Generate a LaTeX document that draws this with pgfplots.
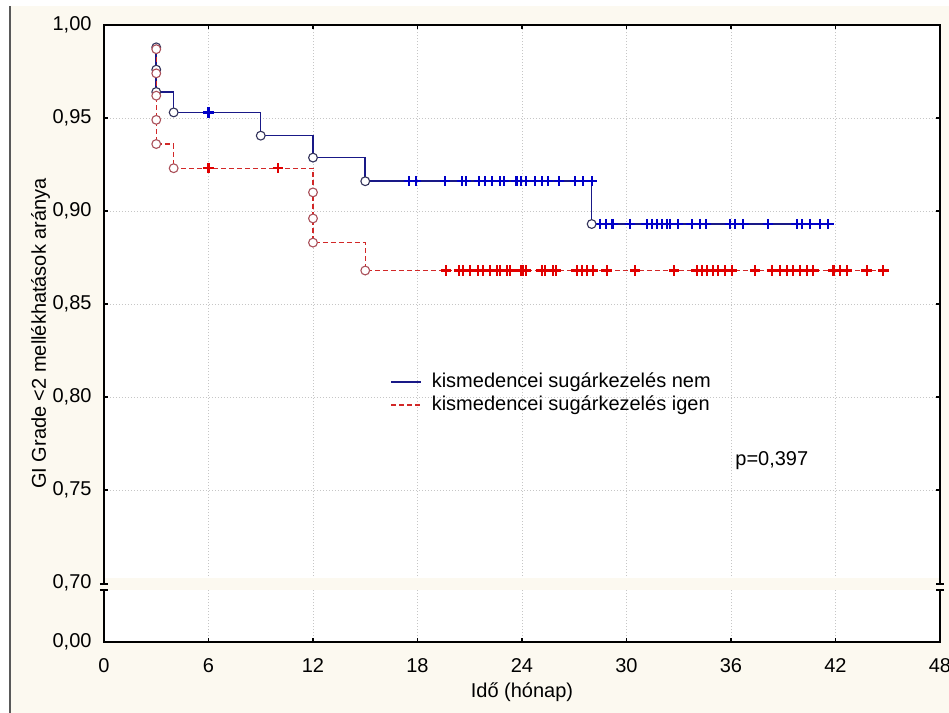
\documentclass[border=0pt]{standalone}
\usepackage{pgfplots}
\pgfplotsset{compat=1.18}
\usepackage{fontspec}
\setmainfont{Liberation Sans}
\definecolor{cream}{RGB}{252,249,240}
\definecolor{kmblue}{RGB}{25,25,135}
\definecolor{kmred}{RGB}{210,40,40}
\definecolor{cenblue}{RGB}{0,0,200}
\definecolor{cenred}{RGB}{225,0,0}
\definecolor{circred}{RGB}{170,80,90}
\definecolor{circblue}{RGB}{50,50,90}
\begin{document}
\begin{tikzpicture}
\useasboundingbox (-52pt,-35.5pt) rectangle (422.5pt,321pt);
\fill[white] (-52pt,-35.5pt) rectangle (422.5pt,321pt);
\fill[cream] (-47pt,-35.5pt) rectangle (422.5pt,318pt);
\draw[gray!70!black, line width=0.7pt] (-47pt,-35.5pt) -- (-47pt,318pt);
\begin{axis}[
  scale only axis, width=418pt, height=308.5pt,
  xmin=0, xmax=48, ymin=0.66828, ymax=1,
  axis background/.style={fill=white},
  axis line style={line width=0.8pt},
  xtick={0,6,12,18,24,30,36,42,48},
  xticklabels={0,6,12,18,24,30,36,42,48},
  ytick={0.66828,0.70,0.75,0.80,0.85,0.90,0.95,1.00},
  yticklabels={{0,00},{0,70},{0,75},{0,80},{0,85},{0,90},{0,95},{1,00}},
  tick align=inside, major tick length=2pt,
  tick style={black, line width=0.6pt},
  xticklabel style={anchor=base, yshift=-15pt},
  yticklabel style={anchor=east, xshift=-2.7pt},
  grid=major,
  major grid style={gray!45, line width=0.4pt, dash pattern=on 0.6pt off 0.9pt},
  xlabel={Idő (hónap)},
  ylabel={GI Grade <2 mellékhatások aránya},
  every axis x label/.style={at={(axis description cs:0.5,0)}, yshift=-27.5pt, anchor=base},
  every axis y label/.style={at={(axis description cs:0,0.5)}, xshift=-29pt, rotate=90, anchor=base},
  legend style={at={(axis description cs:0.342,0.4028)}, anchor=west, draw=none, fill=none,
    inner sep=0pt, cells={anchor=west}, row sep=1pt,
    nodes={inner sep=0.5pt, text height=7.5pt, text depth=2pt},
    /tikz/every odd column/.append style={column sep=4.5pt}},
  legend image code/.code={\draw[#1] (0pt,0pt) -- (15pt,0pt);},
]
% blue (nem) step curve
\addplot[kmblue, line width=0.75pt, const plot mark left, forget plot] coordinates {
(3,0.988) (3,0.976) (3,0.964) (4,0.953) (9,0.9405) (12,0.9287) (15,0.916) (28,0.893) (41.6,0.893)};
% blue censored
\addplot[only marks, mark=+, mark size=2.6pt, cenblue, line width=1.1pt, forget plot] coordinates {
(6,0.953)
(17.51,0.916) (17.91,0.916) (19.58,0.916) (20.54,0.916) (20.79,0.916) (21.55,0.916) (21.88,0.916)
(22.26,0.916) (22.74,0.916) (22.97,0.916) (23.69,0.916) (23.92,0.916) (24.21,0.916) (24.75,0.916)
(25.13,0.916) (25.51,0.916) (26.14,0.916) (27.04,0.916) (27.52,0.916) (28.0,0.916)
(28.48,0.893) (28.82,0.893) (29.2,0.893) (30.2,0.893) (31.16,0.893) (31.45,0.893) (31.73,0.893)
(32.02,0.893) (32.31,0.893) (32.5,0.893) (32.97,0.893) (33.74,0.893) (34.22,0.893) (34.56,0.893)
(35.94,0.893) (36.23,0.893) (36.71,0.893) (38.14,0.893) (39.77,0.893) (40.06,0.893) (40.54,0.893)
(41.11,0.893) (41.59,0.893)};
% blue events
\addplot[only marks, mark=*, mark size=2.2pt, mark options={fill=white, draw=circblue, line width=0.55pt}, forget plot] coordinates {
(3,0.988) (3,0.976) (3,0.964) (4,0.953) (9,0.9405) (12,0.9287) (15,0.916) (28,0.893)};
% red (igen) step curve
\addplot[kmred, line width=0.6pt, dash pattern=on 2.5pt off 1.5pt, const plot mark left, forget plot] coordinates {
(3,0.987) (3,0.974) (3,0.962) (3,0.949) (3,0.936) (4,0.923) (12,0.910) (12,0.896) (12,0.883) (15,0.868) (44.9,0.868)};
% red censored
\addplot[only marks, mark=+, mark size=2.6pt, cenred, line width=1.1pt, forget plot] coordinates {
(6,0.923) (10,0.923)
(19.64,0.868) (20.4,0.868) (20.63,0.868) (21.01,0.868) (21.49,0.868) (21.74,0.868) (22.16,0.868)
(22.55,0.868) (22.74,0.868) (23.12,0.868) (23.31,0.868) (23.92,0.868) (24.08,0.868) (24.23,0.868)
(25.13,0.868) (25.32,0.868) (25.8,0.868) (25.95,0.868) (27.14,0.868) (27.43,0.868) (27.71,0.868)
(28.09,0.868) (28.86,0.868) (30.49,0.868) (32.73,0.868) (34.03,0.868) (34.32,0.868) (34.64,0.868)
(34.98,0.868) (35.27,0.868) (35.66,0.868) (36.04,0.868) (37.38,0.868) (38.34,0.868) (38.81,0.868)
(39.2,0.868) (39.58,0.868) (39.96,0.868) (40.35,0.868) (40.73,0.868) (41.88,0.868) (42.26,0.868)
(42.64,0.868) (43.79,0.868) (44.75,0.868)};
% red events
\addplot[only marks, mark=*, mark size=2.2pt, mark options={fill=white, draw=circred, line width=0.55pt}, forget plot] coordinates {
(3,0.987) (3,0.974) (3,0.962) (3,0.949) (3,0.936) (4,0.923) (12,0.910) (12,0.896) (12,0.883) (15,0.868)};
\addlegendimage{kmblue, line width=0.75pt}
\addlegendentry{kismedencei sugárkezelés nem}
\addlegendimage{kmred, line width=0.6pt, dash pattern=on 2.5pt off 1.5pt}
\addlegendentry{kismedencei sugárkezelés igen}
\node[anchor=west, inner sep=0pt] at (axis cs:36.23,0.7656) {p=0,397};
\end{axis}
% axis break band
\fill[cream] (0.4pt,26pt) rectangle (417.6pt,32pt);
\fill[cream] (-1pt,26pt) rectangle (1pt,29pt);
\fill[cream] (417pt,26pt) rectangle (419pt,29pt);
\draw[black, line width=0.7pt] (-2pt,26pt) -- (2pt,26pt) (-2pt,29pt) -- (2pt,29pt);
\draw[black, line width=0.7pt] (416pt,26pt) -- (420pt,26pt) (416pt,29pt) -- (420pt,29pt);
\end{tikzpicture}
\end{document}
